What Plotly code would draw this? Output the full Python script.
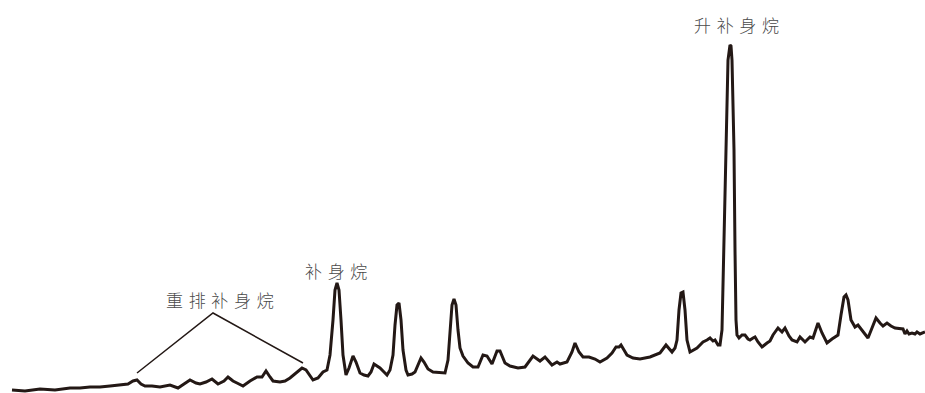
import plotly.graph_objects as go

# Retention position (horizontal) and detector response (vertical) of the trace
retention = [
    12, 25, 40, 55, 70, 80, 90, 100, 110, 120, 128, 133, 137, 141, 145, 152, 160, 170, 178, 184,
    190, 196, 200, 206, 212, 218, 224, 228, 233, 237, 243, 250, 257, 262, 266, 270, 273, 280, 285, 290,
    296, 302, 306, 310, 313, 318, 323, 327, 330, 333, 335, 337, 339, 341, 343, 346, 349, 353, 356, 360,
    364, 368, 371, 374, 377, 380, 384, 387, 390, 393, 395, 397, 399, 401, 403, 406, 408, 412, 415, 418,
    421, 424, 428, 433, 440, 445, 448, 450, 452, 454, 456, 458, 460, 463, 468, 473, 478, 483, 487, 492,
    497, 500, 505, 510, 518, 525, 533, 540, 545, 552, 557, 560, 567, 572, 575, 579, 583, 589, 595, 600,
    607, 612, 616, 619, 621, 624, 627, 633, 640, 650, 660, 666, 672, 675, 677, 679, 681, 683, 685, 687,
    690, 697, 703, 707, 710, 713, 715, 718, 720, 722, 724, 726, 728, 730, 731, 732, 734, 735, 736, 737,
    739, 742, 745, 748, 750, 753, 755, 758, 762, 767, 770, 773, 778, 782, 785, 789, 792, 797, 800, 805,
    810, 813, 818, 822, 827, 832, 838, 841, 844, 846, 848, 851, 855, 858, 863, 868, 872, 876, 880, 883,
    887, 891, 895, 903, 905, 907, 909, 912, 915, 917, 920, 923, 925,
]
response = [
    3, 2, 4, 3, 5, 5, 6, 6, 7, 8, 9, 12, 13, 9, 7, 7, 6, 8, 5, 9,
    13, 10, 9, 11, 14, 9, 12, 16, 12, 10, 7, 12, 16, 16, 22, 16, 12, 11, 12, 15,
    20, 25, 23, 17, 13, 15, 21, 23, 38, 73, 103, 110, 103, 73, 38, 18, 25, 37, 31, 20,
    18, 17, 21, 29, 27, 25, 21, 18, 23, 38, 68, 88, 90, 73, 43, 23, 18, 19, 21, 29,
    35, 31, 24, 21, 20, 20, 33, 63, 88, 94, 88, 63, 45, 37, 30, 26, 26, 38, 37, 29,
    42, 42, 30, 27, 25, 26, 37, 32, 36, 28, 31, 29, 31, 41, 50, 41, 36, 36, 34, 31,
    35, 40, 46, 46, 48, 43, 38, 35, 34, 36, 40, 48, 41, 45, 53, 83, 100, 101, 83, 53,
    41, 45, 51, 53, 55, 52, 53, 48, 48, 63, 153, 253, 333, 348, 347, 333, 243, 143, 73, 58,
    55, 58, 58, 54, 53, 55, 56, 51, 46, 50, 52, 58, 65, 61, 65, 57, 53, 51, 56, 51,
    56, 55, 70, 60, 50, 54, 58, 78, 96, 98, 93, 73, 66, 68, 61, 55, 65, 75, 70, 67,
    70, 67, 65, 64, 59, 62, 59, 60, 59, 61, 59, 60, 61,
]

# Peak labels: text and where each sits
label_text = ["升补身烷", "补身烷", "重排补身烷"]
label_x = [736, 336, 220]
label_y = [369, 123, 94]

# Bracket joining the rearranged-drimane label to its peak cluster
bracket_x = [137, 213, 303]
bracket_y = [20, 80, 30]

SP = "\u2004"

fig = go.Figure()
fig.add_trace(go.Scatter(
    x=bracket_x, y=bracket_y, mode="lines",
    line=dict(color="#231815", width=1.5),
    hoverinfo="skip", showlegend=False,
))
fig.add_trace(go.Scatter(
    x=retention, y=response, mode="lines",
    line=dict(color="#231815", width=3, shape="linear"),
    showlegend=False,
))

for t, x, y in zip(label_text, label_x, label_y):
    fig.add_annotation(
        x=x, y=y, xref="x", yref="y",
        text=SP.join(t), showarrow=False,
        font=dict(family="Noto Sans CJK SC", size=17, color="#4a4a4a", weight=300),
        xanchor="center", yanchor="middle",
    )

fig.update_layout(
    width=925, height=393,
    margin=dict(l=0, r=0, t=0, b=0),
    paper_bgcolor="white", plot_bgcolor="white",
    xaxis=dict(range=[0, 925], visible=False, fixedrange=True),
    yaxis=dict(range=[0, 393], visible=False, fixedrange=True),
)

fig.write_html("out.html")
